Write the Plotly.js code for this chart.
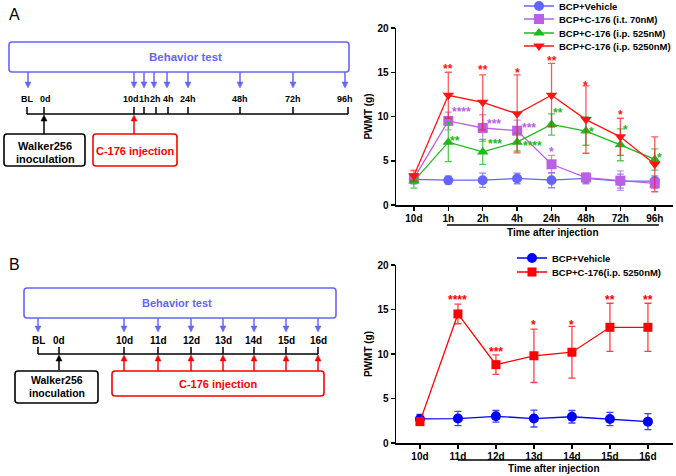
<!DOCTYPE html>
<html><head><meta charset="utf-8">
<script src="https://cdn.plot.ly/plotly-3.0.1.min.js"></script>
<style>html,body{margin:0;padding:0;background:#fff}#chart{width:676px;height:476px}</style>
</head><body><div id="chart"></div>
<script>
// ---------- Panel A data ----------
const timeA = ['10d','1h','2h','4h','24h','48h','72h','96h'];
const vehicleA = [2.9, 2.8, 2.8, 3.0, 2.8, 3.0, 2.7, 2.7];
const vehicleAErr = [0.5, 0.45, 0.8, 0.6, 0.85, 0.6, 0.8, 0.6];
const it70A = [3.0, 9.5, 8.7, 8.4, 4.6, 3.1, 2.75, 2.45];
const it70AErr = [0.5, 1.0, 1.5, 1.2, 1.0, 0.4, 1.1, 0.6];
const ip525A = [2.7, 7.1, 6.0, 7.1, 9.1, 8.35, 6.8, 5.15];
const ip525AErr = [0.8, 2.2, 1.4, 1.0, 1.2, 1.6, 1.8, 1.2];
const ip5250A = [3.3, 12.4, 11.6, 10.3, 12.4, 9.65, 7.7, 4.6];
const ip5250AErr = [0.6, 2.6, 3.1, 4.4, 3.6, 3.8, 2.1, 3.1];
const namesA = ['BCP+Vehicle','BCP+C-176 (i.t. 70nM)','BCP+C-176 (i.p. 525nM)','BCP+C-176 (i.p. 5250nM)'];
// significance labels: [category index, level, label]
const sig5250A = [[1,15.7,'**'],[2,15.6,'**'],[3,15.3,'*'],[4,16.6,'**'],[5,13.75,'*'],[6,10.5,'*']];
const sig70A = [[1.37,10.8,'****'],[2.33,9.5,'***'],[3.35,9.0,'***'],[4,6.3,'*']];
const sig525A = [[1.19,7.6,'**'],[2.35,7.2,'***'],[3.46,7.0,'****'],[4.19,10.7,'**'],[5.15,8.6,'*'],[6.16,8.8,'*'],[7.15,5.6,'*']];

// ---------- Panel B data ----------
const dayB = ['10d','11d','12d','13d','14d','15d','16d'];
const vehicleB = [2.7, 2.75, 3.0, 2.75, 2.95, 2.7, 2.4];
const vehicleBErr = [0.5, 0.8, 0.65, 0.95, 0.7, 0.75, 0.9];
const ip5250B = [2.4, 14.5, 8.8, 9.8, 10.2, 13.0, 13.0];
const ip5250BErr = [0.2, 1.1, 1.1, 3.0, 2.9, 2.7, 2.7];
const namesB = ['BCP+Vehicle','BCP+C-176(i.p. 5250nM)'];
const sigB = [[1,16.4,'****'],[2,10.6,'***'],[3,13.6,'*'],[4,13.6,'*'],[5,16.4,'**'],[6,16.4,'**']];

// ---------- schematic labels ----------
const timelineA = ['BL','0d','10d','1h','2h','4h','24h','48h','72h','96h'];
const timelineB = ['BL','0d','10d','11d','12d','13d','14d','15d','16d'];
const xTitle = 'Time after injection';
const yTitle = 'PWMT (g)';

const W = 676, H = 476;
const FONT = 'Liberation Sans, Arial, Helvetica, sans-serif';
const X = p => p / W, Y = p => 1 - p / H;
const C = {veh:'#6464ff', it:'#bb5fe6', g:'#1fb81f', r:'#ff1414', blue:'#0000ff', red:'#ff0000'};

function tr(x, y, err, name, color, sym, size, xa, ya, leg, errColor){
  return {x, y, type:'scatter', mode:'lines+markers', name, xaxis:xa, yaxis:ya, legend:leg,
    line:{color, width:1.3}, marker:{color, symbol:sym, size},
    error_y:{type:'data', array:err, visible:true, color:errColor||color, thickness:1.3, width:3.5},
    cliponaxis:false};
}
const traces = [
  tr(timeA, vehicleA, vehicleAErr, namesA[0], C.veh, 'circle', 10, 'x','y','legend','rgba(100,100,255,0.75)'),
  tr(timeA, it70A, it70AErr, namesA[1], C.it, 'square', 10, 'x','y','legend2','rgba(187,95,230,0.7)'),
  tr(timeA, ip525A, ip525AErr, namesA[2], C.g, 'triangle-up', 10, 'x','y','legend3','rgba(31,184,31,0.75)'),
  tr(timeA, ip5250A, ip5250AErr, namesA[3], C.r, 'triangle-down', 10, 'x','y','legend4','rgba(255,20,20,0.7)'),
  tr(dayB, vehicleB, vehicleBErr, namesB[0], C.blue, 'circle', 10, 'x2','y2','legend5','rgba(0,0,255,0.75)'),
  tr(dayB, ip5250B, ip5250BErr, namesB[1], C.red, 'square', 9, 'x2','y2','legend6','rgba(255,0,0,0.75)')
];

const shapes = [], ann = [];
function line(x0,y0,x1,y1,color,w){shapes.push({type:'line',xref:'paper',yref:'paper',x0:X(x0),y0:Y(y0),x1:X(x1),y1:Y(y1),line:{color,width:w||1.5}});}
function rrect(x0,y0,x1,y1,color){
  const r=3, p=(x,y)=>X(x)+' '+Y(y);
  const path=`M ${p(x0+r,y0)} L ${p(x1-r,y0)} Q ${p(x1,y0)} ${p(x1,y0+r)} L ${p(x1,y1-r)} Q ${p(x1,y1)} ${p(x1-r,y1)} L ${p(x0+r,y1)} Q ${p(x0,y1)} ${p(x0,y1-r)} L ${p(x0,y0+r)} Q ${p(x0,y0)} ${p(x0+r,y0)} Z`;
  shapes.push({type:'path',xref:'paper',yref:'paper',path,line:{color,width:1.6},fillcolor:'rgba(0,0,0,0)'});
}
function arrow(x,yTail,yTip,color){
  const d = Math.sign(yTip-yTail), hl=6, hw=3;
  line(x,yTail,x,yTip-d*hl,color,1.5);
  const p=(a,b)=>X(a)+' '+Y(b);
  shapes.push({type:'path',xref:'paper',yref:'paper',path:`M ${p(x-hw,yTip-d*hl)} L ${p(x+hw,yTip-d*hl)} L ${p(x,yTip)} Z`,line:{color,width:0.5},fillcolor:color});
}
function txt(x,y,t,size,color,bold){
  ann.push({xref:'paper',yref:'paper',x:X(x),y:Y(y),text:bold===false?t:'<b>'+t+'</b>',showarrow:false,xanchor:'center',yanchor:'middle',
    font:{family:FONT,size,color:color||'#000'}});
}

// ----- Panel A schematic -----
txt(14,14,'A',16,'#000',false);
rrect(9,42,349,72,C.veh);
txt(185,57,'Behavior test',11.5,C.veh);
const arrA = [28,134,144,154,167,188,240,293,345];
arrA.forEach(x=>arrow(x,72,88,C.veh));
const labA = [27,45,131,144,155,168,188,240,293,345];
timelineA.forEach((t,i)=>txt(labA[i],99,t,9));
line(27,114,348,114,'#000',1.5);
[27,44,134,144,156,168,188,240,293,348].forEach(x=>line(x,107,x,114,'#000',1.5));
arrow(44,134,115,'#000');
rrect(4,134,85,166,'#000');
txt(45,146,'Walker256',11); txt(45,159,'inoculation',11);
arrow(134,134,115,C.red);
rrect(93,134,177,166,C.red);
txt(135,151,'C-176 injection',11,C.red);

// ----- Panel B schematic -----
txt(14,264,'B',16,'#000',false);
rrect(24,288,336,318,C.veh);
txt(177,303,'Behavior test',11,C.veh);
const tickB = [38,59,124,158,191,223,254,286,318];
[38,124,158,191,223,254,286,318].forEach(x=>arrow(x,318,332,C.veh));
timelineB.forEach((t,i)=>txt(tickB[i],340,t,10));
line(38,354,318,354,'#000',1.5);
tickB.forEach(x=>line(x,347,x,354,'#000',1.5));
arrow(59,370,355,'#000');
rrect(15,371,98,403,'#000');
txt(57,380,'Walker256',10.5); txt(57,393,'inoculation',10.5);
[124,158,191,223,254,286,318].forEach(x=>arrow(x,371,355,C.red));
rrect(112,371,324,396,C.red);
txt(218,384,'C-176 injection',11,C.red);

// ----- significance stars -----
function stars(list,color,xa,ya){
  list.forEach(([i,v,t])=>ann.push({xref:xa,yref:ya,x:i,y:v,text:'<b>'+t+'</b>',showarrow:false,xanchor:'center',yanchor:'middle',yshift:-3,
    font:{family:FONT,size:12,color}}));
}
stars(sig5250A,C.r,'x','y'); stars(sig70A,C.it,'x','y'); stars(sig525A,C.g,'x','y');
stars(sigB,C.red,'x2','y2');

// x-axis titles with underline (centred under the post-injection time points)
const titlefont = {family:FONT,size:10,color:'#000',weight:'bold'};
shapes.push({type:'line',xref:'x',yref:'paper',x0:0.96,x1:7.12,y0:Y(225),y1:Y(225),line:{color:'#000',width:1.3}});
shapes.push({type:'line',xref:'x2',yref:'paper',x0:1.0,x1:6.05,y0:Y(460),y1:Y(460),line:{color:'#000',width:1.3}});
ann.push({xref:'x',yref:'paper',x:4.04,y:Y(232),text:xTitle,showarrow:false,xanchor:'center',yanchor:'middle',font:titlefont});
ann.push({xref:'x2',yref:'paper',x:3.52,y:Y(468),text:xTitle,showarrow:false,xanchor:'center',yanchor:'middle',font:titlefont});

const tickfont = {family:FONT,size:10,color:'#000',weight:'bold'};
function xax(domain,range,anchor,cats){return {domain,range,anchor,type:'category',categoryorder:'array',categoryarray:cats,
  showline:true,linecolor:'#000',linewidth:1.5,ticks:'outside',ticklen:4,tickwidth:1.5,tickcolor:'#000',tickfont,ticklabelstandoff:-1,
  showgrid:false,zeroline:false,automargin:false};}
function yax(domain,anchor){return {domain,range:[0,20],anchor,tickvals:[0,5,10,15,20],showline:true,linecolor:'#000',linewidth:1.5,
  ticks:'outside',ticklen:4,tickwidth:1.5,tickcolor:'#000',tickfont,showgrid:false,zeroline:false,automargin:false,
  title:{text:yTitle,font:titlefont,standoff:3}};}

function leg(xp,yp){return {x:X(xp),y:Y(yp),xanchor:'left',yanchor:'middle',bgcolor:'rgba(0,0,0,0)',borderwidth:0,
  font:{family:FONT,size:9.5,color:'#000',weight:'bold'},itemwidth:30};}

const layout = {
  width:W,height:H,margin:{l:0,r:0,t:0,b:0,pad:0,autoexpand:false},paper_bgcolor:'#fff',plot_bgcolor:'rgba(0,0,0,0)',
  showlegend:true,
  xaxis:xax([X(396),X(673)],[-0.52,7.53],'y',timeA),
  yaxis:yax([Y(205),Y(28)],'x'),
  xaxis2:xax([X(396),X(673)],[-0.63,6.66],'y2',dayB),
  yaxis2:yax([Y(443),Y(265)],'x2'),
  legend:leg(519,6),legend2:leg(519,19),legend3:leg(519,33),legend4:leg(519,46),
  legend5:leg(512,258),legend6:leg(512,272),
  shapes,annotations:ann
};
Plotly.newPlot('chart',traces,layout,{displayModeBar:false,staticPlot:true});
</script></body></html>
